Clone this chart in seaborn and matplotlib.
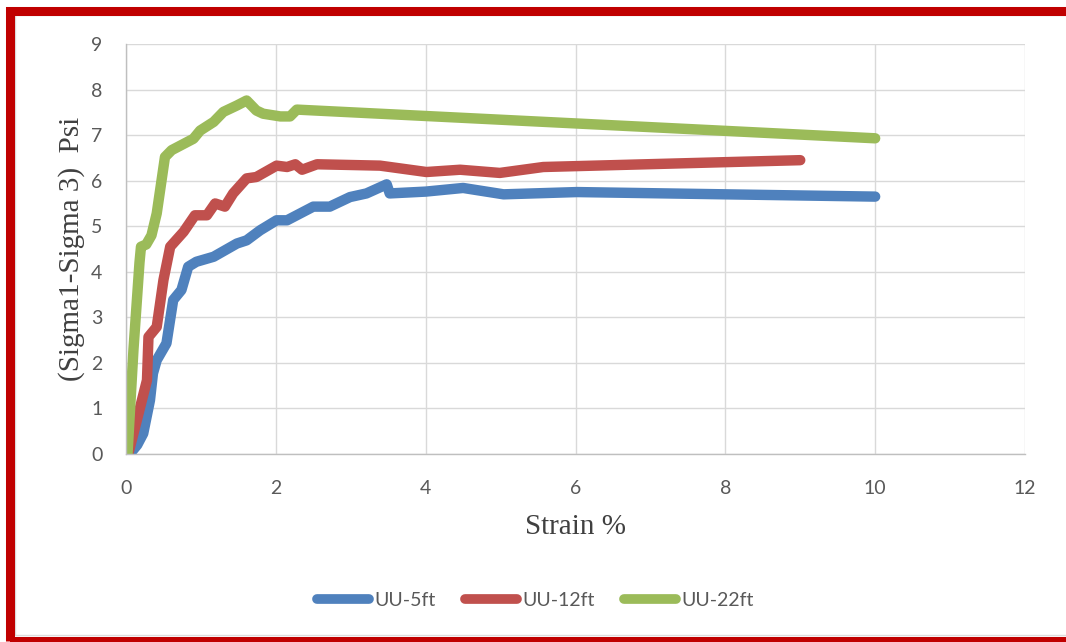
import numpy as np
import pandas as pd
import matplotlib
matplotlib.use("Agg")
import matplotlib.pyplot as plt
import seaborn as sb
from matplotlib.patches import Rectangle


# curves (strain %, deviator stress psi)
x_5ft = [0.05, 0.15, 0.23, 0.32, 0.36, 0.41, 0.54, 0.63, 0.74, 0.83, 0.94, 1.17, 1.48, 1.61,
         1.79, 2.01, 2.15, 2.50, 2.72, 2.99, 3.21, 3.48, 3.52, 4.00, 4.50, 5.04, 6.02, 10.0]
y_5ft = [0.0, 0.20, 0.45, 1.18, 1.77, 2.06, 2.43, 3.38, 3.60, 4.11, 4.22, 4.33, 4.62, 4.69,
         4.91, 5.13, 5.13, 5.43, 5.43, 5.64, 5.72, 5.92, 5.72, 5.76, 5.84, 5.70, 5.75, 5.65]

x_12ft = [0.03, 0.28, 0.30, 0.41, 0.50, 0.59, 0.77, 0.92, 1.08, 1.19, 1.32, 1.43, 1.61, 1.74,
          2.01, 2.15, 2.26, 2.35, 2.55, 3.39, 4.01, 4.46, 4.99, 5.57, 9.0]
y_12ft = [0.0, 1.62, 2.57, 2.79, 3.82, 4.55, 4.88, 5.24, 5.24, 5.50, 5.43, 5.72, 6.05, 6.08,
          6.33, 6.30, 6.36, 6.24, 6.36, 6.33, 6.19, 6.24, 6.17, 6.30, 6.45]

x_22ft = [0.02, 0.10, 0.18, 0.20, 0.27, 0.34, 0.41, 0.52, 0.61, 0.90, 0.99, 1.17, 1.30, 1.48,
          1.61, 1.74, 1.83, 2.06, 2.19, 2.28, 10.0]
y_22ft = [0.0, 2.30, 4.20, 4.55, 4.60, 4.80, 5.28, 6.52, 6.67, 6.92, 7.10, 7.29, 7.51, 7.65,
          7.76, 7.54, 7.47, 7.41, 7.41, 7.56, 6.93]

names = ["UU-5ft", "UU-12ft", "UU-22ft"]
colors = ["#4F81BD", "#C0504D", "#9BBB59"]

df = pd.concat([
    pd.DataFrame({"strain": x_5ft, "stress": y_5ft, "sample": names[0]}),
    pd.DataFrame({"strain": x_12ft, "stress": y_12ft, "sample": names[1]}),
    pd.DataFrame({"strain": x_22ft, "stress": y_22ft, "sample": names[2]}),
], ignore_index=True)

sb.set_style("white")
fig = plt.figure(figsize=(10.66, 6.42), dpi=100)
ax = fig.add_axes([126 / 1066, 1 - 454 / 642, (1025 - 126) / 1066, (454 - 44) / 642])

sb.lineplot(data=df, x="strain", y="stress", hue="sample", palette=dict(zip(names, colors)),
            sort=False, estimator=None, linewidth=7.5, solid_capstyle="round",
            solid_joinstyle="round", legend=False, ax=ax)

ax.set_xlim(0, 12)
ax.set_ylim(0, 9)
ax.set_xticks(np.arange(0, 13, 2))
ax.set_yticks(np.arange(0, 10, 1))
ax.grid(True, color="#D9D9D9", linewidth=1)
ax.set_axisbelow(True)
for s in ["top", "right"]:
    ax.spines[s].set_visible(False)
for s in ["left", "bottom"]:
    ax.spines[s].set_color("#BFBFBF")
    ax.spines[s].set_linewidth(1)
ax.tick_params(length=0, labelsize=14, labelcolor="#595959")
ax.tick_params(axis="x", pad=19)
ax.tick_params(axis="y", pad=17)
for lbl in ax.get_xticklabels() + ax.get_yticklabels():
    lbl.set_family("Lato")

ax.set_xlabel("Strain %", family="Liberation Serif", fontsize=21, color="#404040", labelpad=12)
ax.set_ylabel("(Sigma1-Sigma 3)  Psi", family="Liberation Serif", fontsize=21,
              color="#404040", labelpad=4)

handles = [plt.Line2D([], [], color=c, linewidth=7, solid_capstyle="round") for c in colors]
fig.legend(handles, names, loc="center", bbox_to_anchor=(0.502, 1 - 600 / 642), ncol=3,
           frameon=False, handlelength=2.7, handletextpad=0.25, columnspacing=1.5,
           prop={"family": "Lato", "size": 14}, labelcolor="#595959")

# red frame around the picture
fig.patches.append(Rectangle((15 / 1066, 7 / 642), 1.1, 620 / 642, transform=fig.transFigure,
                             fill=False, edgecolor="#DDDDDD", linewidth=1))
fig.patches.append(Rectangle((9.5 / 1066, 1.5 / 642), 1.1, 630 / 642, transform=fig.transFigure,
                             fill=False, edgecolor="#C00000", linewidth=6.5))

fig.savefig("out.png", dpi=100)
